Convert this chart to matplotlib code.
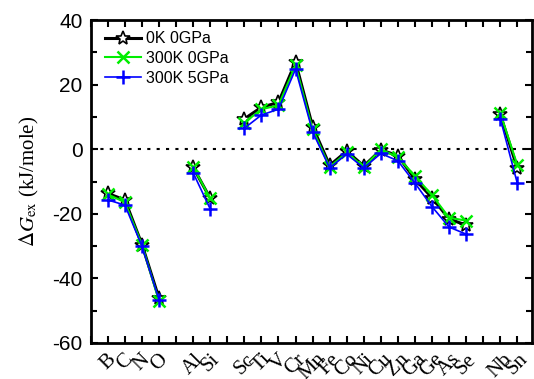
import numpy as np
import matplotlib
matplotlib.use("Agg")
import matplotlib.pyplot as plt
from matplotlib.ticker import MultipleLocator

plt.rcParams['mathtext.fontset'] = 'stix'
plt.rcParams['axes.unicode_minus'] = False

nan = np.nan
# element labels placed at integer positions 1..25, gaps left empty
labels = ['B', 'C', 'N', 'O', '', 'Al', 'Si', '', 'Sc', 'Ti', 'V', 'Cr', 'Mn',
          'Fe', 'Co', 'Ni', 'Cu', 'Zn', 'Ga', 'Ge', 'As', 'Se', '', 'Nb', 'Sn']
g_0k_0gpa = [-13.7, -15.7, -29.5, -46.2, nan, -5.6, -15.2, nan, 9.4, 13.0, 14.5,
             27.0, 7.0, -5.0, -0.6, -5.2, -0.2, -2.0, -9.3, -15.0, -21.6, -23.5,
             nan, 10.8, -5.9]
g_300k_0gpa = [-14.0, -16.4, -29.6, -47.0, nan, -5.5, -15.2, nan, 8.2, 12.4, 13.6,
               26.0, 6.2, -5.5, -1.0, -5.5, 0.0, -2.5, -8.3, -14.2, -21.2, -22.1,
               nan, 11.1, -4.9]
g_300k_5gpa = [-15.7, -17.3, -30.0, -46.6, nan, -7.3, -18.5, nan, 6.5, 10.6, 12.4,
               24.8, 5.4, -5.8, -1.5, -5.8, -1.3, -3.6, -10.5, -17.8, -24.1, -26.3,
               nan, 9.5, -10.6]

x = np.arange(1, len(labels) + 1)

fig = plt.figure(figsize=(5.34, 3.79), dpi=100)
ax = fig.add_axes([0.170, 0.095, 0.826, 0.852])

ax.axhline(0, color='black', linestyle=(0, (1.5, 3)), lw=1.5, zorder=1)

ax.plot(x, g_0k_0gpa, color='black', lw=2.2, marker='*', ms=10,
        mfc='white', mec='black', mew=1.2, label='0K 0GPa', zorder=2)
ax.plot(x, g_300k_0gpa, color='#00ee00', lw=1.5, marker='x', ms=8,
        mew=1.8, label='300K 0GPa', zorder=3)
ax.plot(x, g_300k_5gpa, color='#0000ff', lw=1.2, marker='+', ms=10,
        mew=1.8, label='300K 5GPa', zorder=4)

ax.set_xlim(0, 25.85)
ax.set_ylim(-60, 40)
ax.set_xticks(np.arange(0, 26))
ax.set_xticklabels([''] + labels, rotation=45, ha='center', va='top',
                   family='Liberation Serif', fontsize=15)
ax.yaxis.set_major_locator(MultipleLocator(20))
ax.yaxis.set_minor_locator(MultipleLocator(10))
for t in ax.get_yticklabels():
    t.set_family('Liberation Sans')
    t.set_fontsize(15)
ax.tick_params(which='both', direction='in', top=True, right=True, width=1.5)
ax.tick_params(which='major', length=5)
ax.tick_params(which='minor', length=4)
ax.tick_params(axis='x', pad=5)
ax.tick_params(axis='y', pad=6)
for s in ax.spines.values():
    s.set_linewidth(2)

ax.set_ylabel(r'$\Delta G_{\rm ex}$ (kJ/mole)', family='Liberation Serif',
              fontsize=15, labelpad=8)

leg = ax.legend(loc='upper left', bbox_to_anchor=(0.0, 1.01), frameon=False,
                prop={'family': 'Liberation Sans', 'size': 11.5},
                handlelength=2.25, labelspacing=0.3, borderaxespad=0.5, handletextpad=0.3)

fig.savefig('out.png', dpi=100)
